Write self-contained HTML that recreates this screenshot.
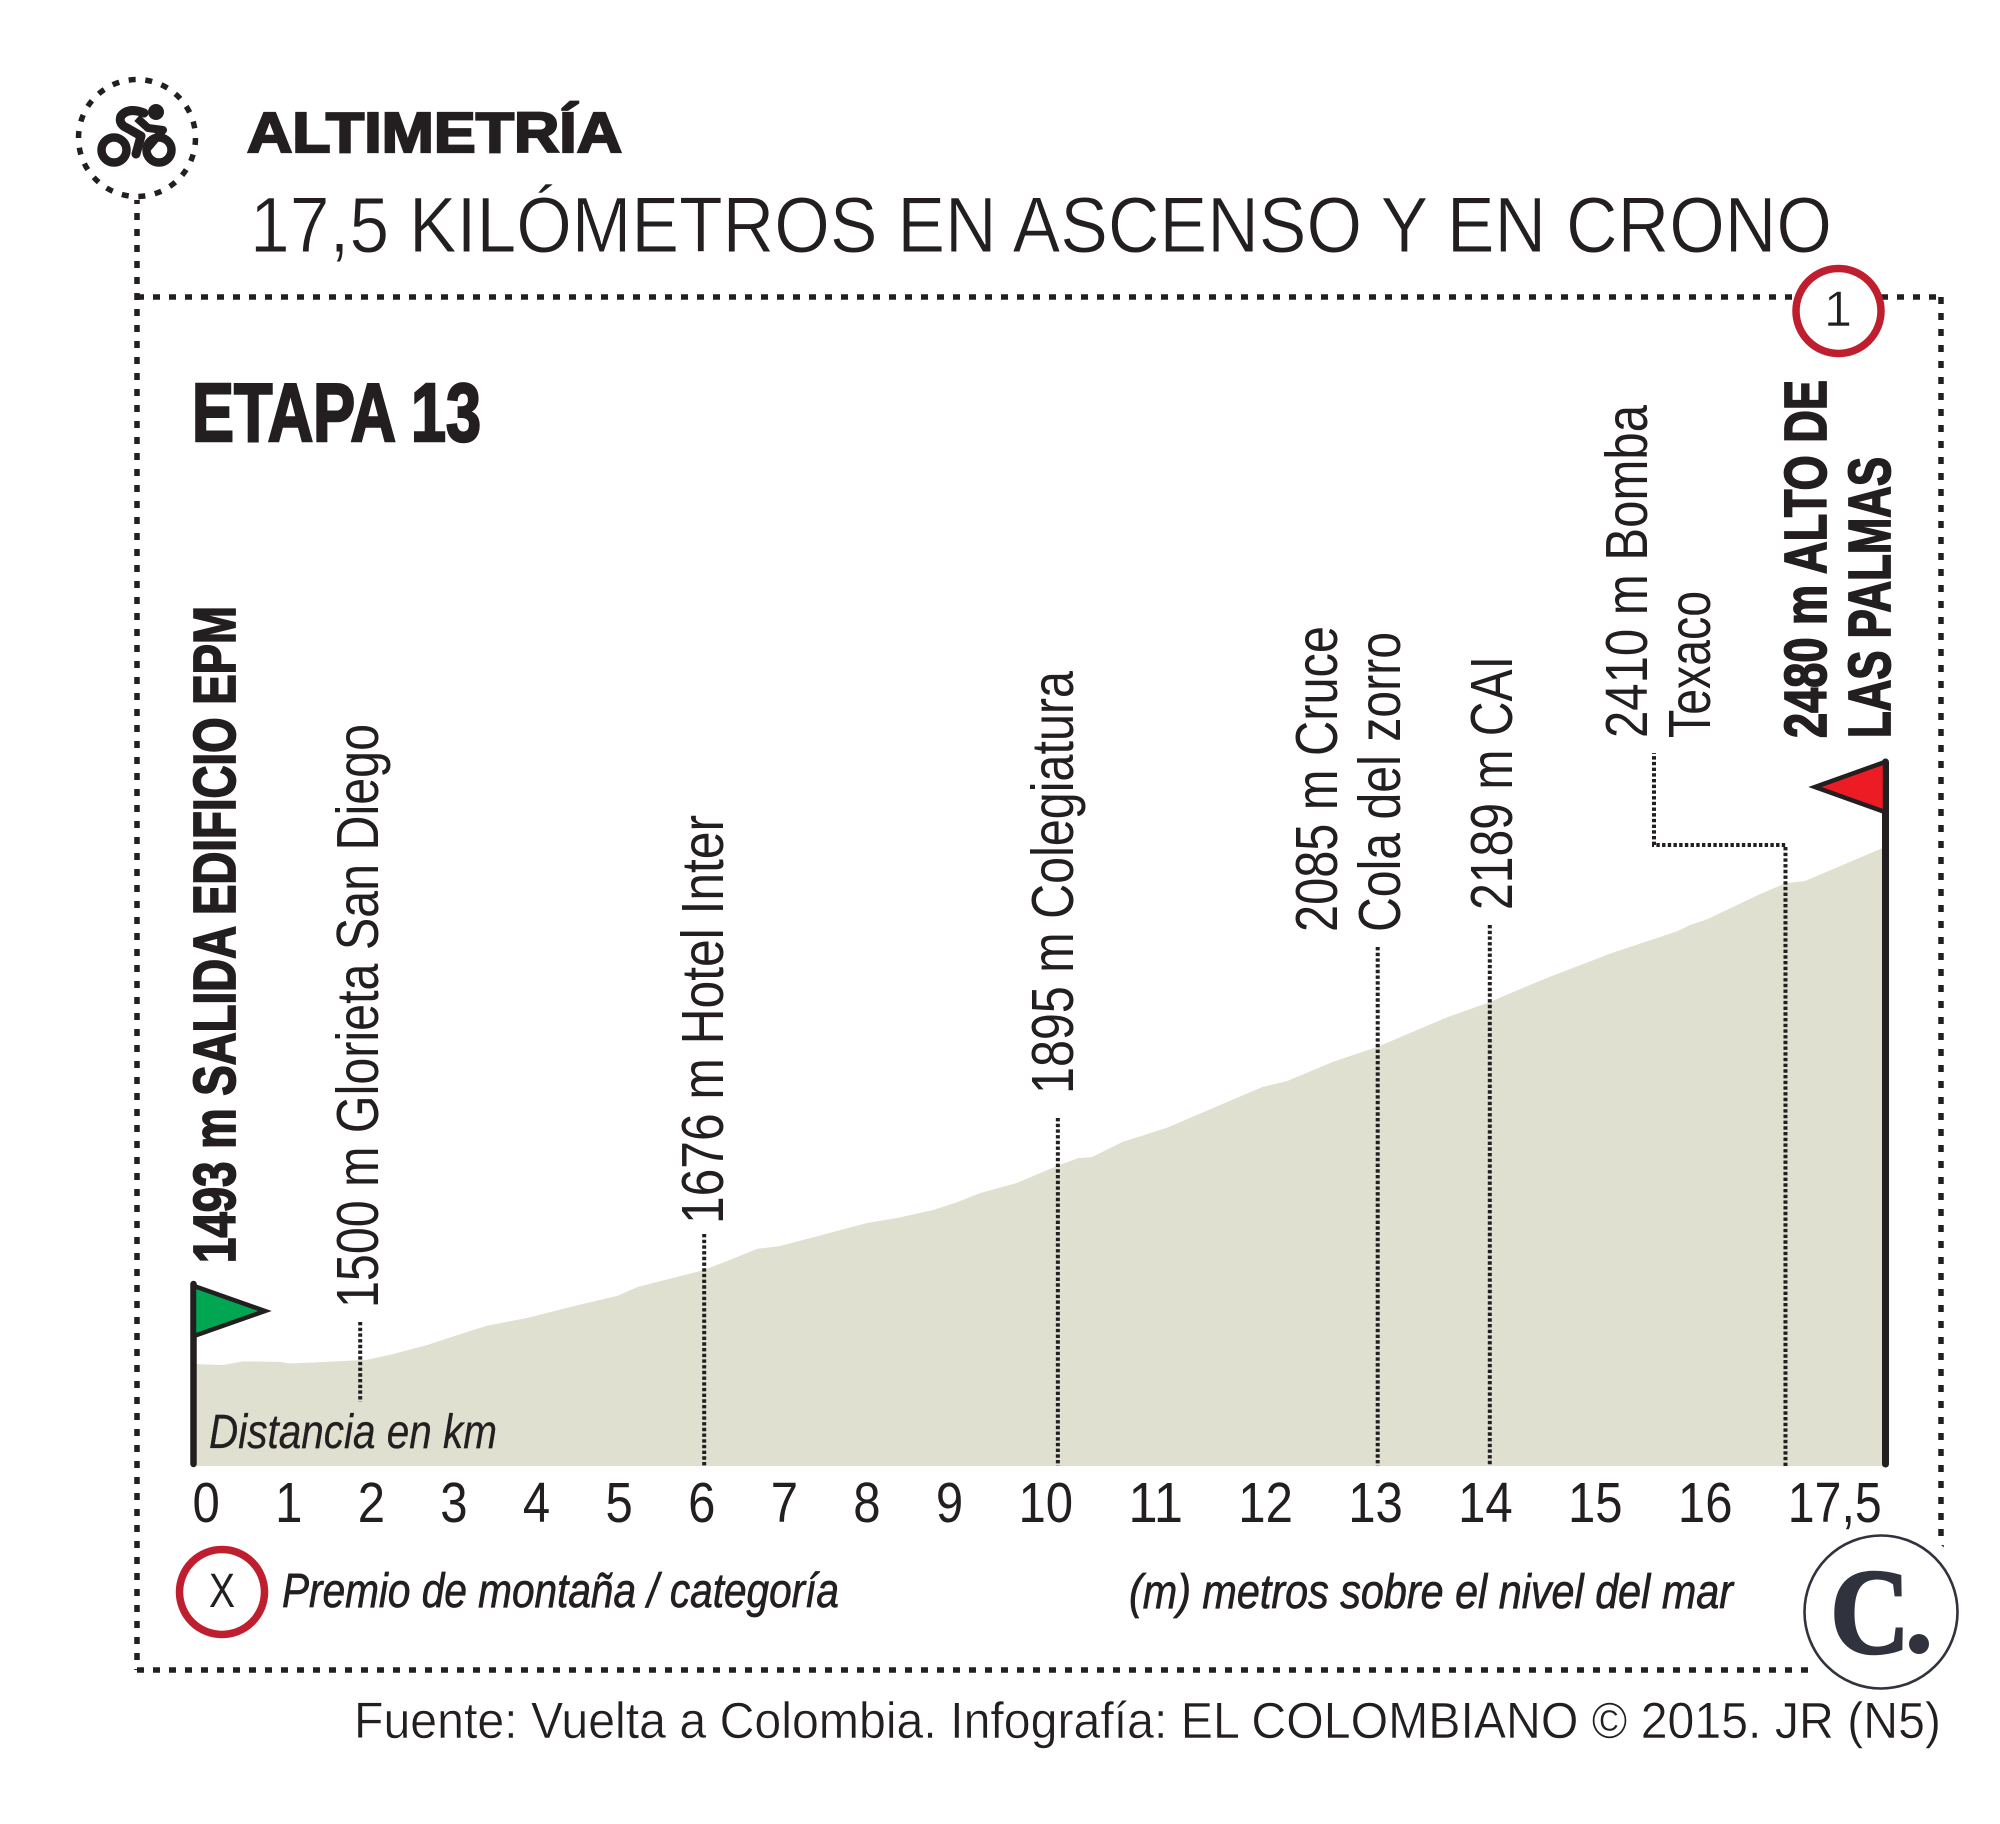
<!DOCTYPE html>
<html lang="es">
<head>
<meta charset="utf-8">
<title>Altimetría Etapa 13</title>
<style>
html,body{margin:0;padding:0;background:#fff;}
svg{display:block;}
text{font-family:"Liberation Sans",sans-serif;fill:#231f20;}
.lbl{font-size:59px;}
.bold{font-size:59px;font-weight:bold;stroke:#231f20;stroke-width:1.8;}
.ital{font-style:italic;font-size:48px;stroke:#231f20;stroke-width:0.3;}
</style>
</head>
<body>
<svg id="chart" xmlns="http://www.w3.org/2000/svg" width="2000" height="1824" viewBox="0 0 2000 1824">
  <rect width="2000" height="1824" fill="#ffffff"/>

  <g id="frame" fill="none" stroke="#231f20" stroke-width="5.5" stroke-dasharray="7 9">
    <path d="M137 197V1670"/>
    <path d="M137 297H1941"/>
    <path d="M1941 297V1670"/>
    <path d="M137 1670H1941"/>
  </g>

  <circle cx="137" cy="138" r="62" fill="#fff"/>
  <circle cx="137" cy="138" r="58.5" fill="none" stroke="#231f20" stroke-width="5.5" stroke-dasharray="7 9.7"/>
  <g fill="none" stroke="#231f20">
    <circle cx="114" cy="150" r="12.5" stroke-width="8.5"/>
    <circle cx="159" cy="150" r="12.5" stroke-width="8.5"/>
    <circle cx="156" cy="112" r="8" fill="#231f20" stroke="none"/>
    <path d="M144 113 Q128 107 121 116 Q118 124 127 128 L141 136 L136 154" stroke-width="9" stroke-linecap="round" stroke-linejoin="round"/>
    <path d="M137 118 L148 128 L163 130 L146 150" stroke-width="8" stroke-linejoin="round"/>
  </g>

  <text x="247" y="152" font-size="57" font-weight="bold" stroke="#231f20" stroke-width="2.2" textLength="375" lengthAdjust="spacingAndGlyphs">ALTIMETRÍA</text>
  <text x="250" y="252" font-size="79" stroke="#fff" stroke-width="0.9" textLength="1582" lengthAdjust="spacingAndGlyphs">17,5 KILÓMETROS EN ASCENSO Y EN CRONO</text>
  <text x="192" y="441" font-size="83" font-weight="bold" stroke="#231f20" stroke-width="2.6" textLength="289" lengthAdjust="spacingAndGlyphs">ETAPA 13</text>

  <path id="profile-area" fill="#e0e0d0"/>
  <g id="leaders" fill="none" stroke="#231f20" stroke-width="4" stroke-dasharray="3.4 2.3"></g>

  <text class="ital" x="209" y="1448" textLength="288" lengthAdjust="spacingAndGlyphs">Distancia en km</text>

  <line x1="193.5" y1="1284" x2="193.5" y2="1464" stroke="#231f20" stroke-width="6.5" stroke-linecap="round"/>
  <polygon points="194,1286 265,1311 194,1336" fill="#00a651" stroke="#231f20" stroke-width="4.5"/>
  <line x1="1885.5" y1="762" x2="1885.5" y2="1464" stroke="#231f20" stroke-width="7" stroke-linecap="round"/>
  <polygon points="1885,762 1815,787 1885,812" fill="#ed1c24" stroke="#231f20" stroke-width="4.5"/>

  <g>
    <text class="bold" transform="translate(235 1263) rotate(-90)" textLength="657" lengthAdjust="spacingAndGlyphs">1493 m SALIDA EDIFICIO EPM</text>
    <text class="lbl" transform="translate(378 1308) rotate(-90)" textLength="584" lengthAdjust="spacingAndGlyphs">1500 m Glorieta San Diego</text>
    <text class="lbl" transform="translate(723 1224) rotate(-90)" textLength="409" lengthAdjust="spacingAndGlyphs">1676 m Hotel Inter</text>
    <text class="lbl" transform="translate(1073 1094) rotate(-90)" textLength="423" lengthAdjust="spacingAndGlyphs">1895 m Colegiatura</text>
    <text class="lbl" transform="translate(1337 932) rotate(-90)" textLength="306" lengthAdjust="spacingAndGlyphs">2085 m Cruce</text>
    <text class="lbl" transform="translate(1400 932) rotate(-90)" textLength="300" lengthAdjust="spacingAndGlyphs">Cola del zorro</text>
    <text class="lbl" transform="translate(1512 910) rotate(-90)" textLength="254" lengthAdjust="spacingAndGlyphs">2189 m CAI</text>
    <text class="lbl" transform="translate(1647 738) rotate(-90)" textLength="333" lengthAdjust="spacingAndGlyphs">2410 m Bomba</text>
    <text class="lbl" transform="translate(1710 738) rotate(-90)" textLength="147" lengthAdjust="spacingAndGlyphs">Texaco</text>
    <text class="bold" transform="translate(1826 738) rotate(-90)" textLength="358" lengthAdjust="spacingAndGlyphs">2480 m ALTO DE</text>
    <text class="bold" transform="translate(1890 738) rotate(-90)" textLength="281" lengthAdjust="spacingAndGlyphs">LAS PALMAS</text>
  </g>

  <ellipse cx="1838.5" cy="311" rx="42.5" ry="42.5" fill="#fff" stroke="#bf1e2e" stroke-width="7.5"/>
  <text x="1838" y="326" font-size="50" text-anchor="middle" stroke="#fff" stroke-width="0.6">1</text>

  <circle cx="1881" cy="1612" r="90" fill="#fff"/>
  <g id="ticks"></g>

  <ellipse cx="222" cy="1592" rx="42.5" ry="42.5" fill="#fff" stroke="#bf1e2e" stroke-width="7.5"/>
  <text x="222" y="1607" font-size="48" text-anchor="middle" textLength="26" lengthAdjust="spacingAndGlyphs">X</text>
  <text class="ital" x="282" y="1607" style="font-size:48px;stroke-width:0.7" textLength="557" lengthAdjust="spacingAndGlyphs">Premio de montaña / categoría</text>
  <text class="ital" x="1129" y="1608" style="font-size:48px;stroke-width:0.7" textLength="604" lengthAdjust="spacingAndGlyphs">(m) metros sobre el nivel del mar</text>

  <g>
    <circle cx="1881" cy="1612" r="76.5" fill="#fff" stroke="#30333d" stroke-width="2.6"/>
    <text x="1830" y="1653" style="font-family:'Liberation Serif',serif;fill:#30333d;" font-size="122" font-weight="bold" stroke="#30333d" stroke-width="2.5" textLength="80" lengthAdjust="spacingAndGlyphs">C</text>
    <circle cx="1919" cy="1644" r="10" fill="#30333d"/>
  </g>

  <text x="354" y="1738" font-size="51" stroke="#fff" stroke-width="0.5" textLength="1587" lengthAdjust="spacingAndGlyphs">Fuente: Vuelta a Colombia. Infografía: EL COLOMBIANO © 2015. JR (N5)</text>
</svg>

<script>
const profileKm = [0, 0.30, 0.51, 0.89, 0.99, 1.38, 1.79, 2.06, 2.41, 2.72, 3.03, 3.45, 3.99, 4.38, 4.59, 5.27, 5.55, 5.83, 6.06, 6.41, 6.96, 7.28, 7.65, 7.90, 8.13, 8.52, 8.93, 9.15, 9.29, 9.61, 10.07, 10.55, 11.06, 11.31, 11.79, 12.24, 12.97, 13.41, 13.65, 14.03, 14.68, 15.35, 15.48, 15.66, 16.18, 16.47, 16.67, 17.31, 17.5];
const profileAlt = [1493, 1491, 1498, 1497, 1494, 1497, 1501, 1512, 1529, 1548, 1566, 1581, 1606, 1623, 1640, 1672, 1692, 1713, 1718, 1735, 1762, 1772, 1787, 1802, 1819, 1839, 1871, 1886, 1888, 1917, 1944, 1982, 2022, 2033, 2070, 2098, 2155, 2184, 2203, 2232, 2278, 2319, 2331, 2342, 2388, 2411, 2415, 2465, 2480];
const markerKm = [1.72, 5.28, 8.94, 12.25, 13.41, 16.47];
const tickLabels = ["0", "1", "2", "3", "4", "5", "6", "7", "8", "9", "10", "11", "12", "13", "14", "15", "16", "17,5"];

const SVG_NS = "http://www.w3.org/2000/svg";
const BASE_Y = 1466;
function xScale(km) { return 194 + km * (1885 - 194) / 17.5; }
function yScale(alt) { return 1364 - (alt - 1493) * 0.5238; }

// elevation area
let d = "M" + xScale(profileKm[0]).toFixed(1) + " " + BASE_Y;
for (let i = 0; i < profileKm.length; i++) {
  d += "L" + xScale(profileKm[i]).toFixed(1) + " " + yScale(profileAlt[i]).toFixed(1);
}
d += "L" + xScale(profileKm[profileKm.length - 1]).toFixed(1) + " " + BASE_Y + "Z";
document.getElementById("profile-area").setAttribute("d", d);

// leader lines
const leaders = document.getElementById("leaders");
function addLeader(pathData) {
  const el = document.createElementNS(SVG_NS, "path");
  el.setAttribute("d", pathData);
  
  
  leaders.appendChild(el);
}
addLeader("M" + xScale(markerKm[0]) + " 1322V1402");
addLeader("M" + xScale(markerKm[1]) + " 1234V" + BASE_Y);
addLeader("M" + xScale(markerKm[2]) + " 1118V" + BASE_Y);
addLeader("M" + xScale(markerKm[3]) + " 947V" + BASE_Y);
addLeader("M" + xScale(markerKm[4]) + " 925V" + BASE_Y);
addLeader("M" + xScale(markerKm[5]) + " " + BASE_Y + "V845H1654V753");

// tick labels: evenly gapped row, as set in the original artwork
const ticks = document.getElementById("ticks");
function labelWidth(s) {
  let w = 0;
  for (const c of s) { w += (c === ",") ? 12 : 27.3; }
  return w;
}
let cursor = 192.5;
for (const label of tickLabels) {
  const w = labelWidth(label);
  const t = document.createElementNS(SVG_NS, "text");
  t.setAttribute("x", cursor);
  t.setAttribute("y", 1522);
  t.setAttribute("font-size", 57);
  t.setAttribute("textLength", w);
  t.setAttribute("lengthAdjust", "spacingAndGlyphs");
  
  
  t.textContent = label;
  ticks.appendChild(t);
  cursor += w + 55.3;
}
</script>
</body>
</html>
